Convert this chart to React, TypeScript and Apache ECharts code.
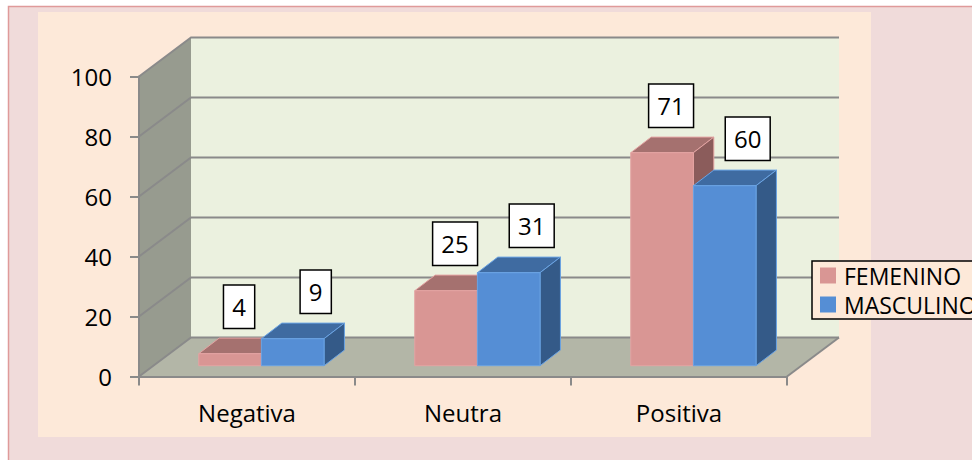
import React, { useEffect, useRef } from 'react';
import * as echarts from 'echarts';

const categories = ['Negativa', 'Neutra', 'Positiva'];
const femenino = [4, 25, 71];
const masculino = [9, 31, 60];
const seriesNames = ['FEMENINO', 'MASCULINO'];
const yTicks = [0, 20, 40, 60, 80, 100];

const FONT = '"Open Sans", sans-serif';
const WALL_DX = 52;
const WALL_DY = -39;
const BAR_FRONT_DX = 14.4;
const BAR_FRONT_DY = -10.8;
const BAR_DX = 20.4;
const BAR_DY = -15.6;
const GRID_COLOR = '#8a8a8a';

const PINK = { front: '#d99694', top: '#a5716f', side: '#8b5c5b', edge: '#e3a3a2' };
const BLUE = { front: '#558ed5', top: '#3f6ba1', side: '#345a88', edge: '#6aa3e3' };

function wallsRender(params: any, api: any) {
  const catW = api.size([1, 0])[0];
  const n = categories.length;
  const x0 = api.coord([0, 0])[0] - catW / 2;
  const x1 = api.coord([n - 1, 0])[0] + catW / 2;
  const y0 = api.coord([0, 0])[1];
  const yT = api.coord([0, yTicks[yTicks.length - 1]])[1];
  const dx = WALL_DX;
  const dy = WALL_DY;
  const children: any[] = [];
  children.push({
    type: 'polygon',
    shape: { points: [[x0, y0], [x0, yT], [x0 + dx, yT + dy], [x0 + dx, y0 + dy]] },
    style: { fill: '#979b8f' },
  });
  children.push({
    type: 'polygon',
    shape: { points: [[x0, y0], [x1, y0], [x1 + dx, y0 + dy], [x0 + dx, y0 + dy]] },
    style: { fill: '#b3b6a7' },
  });
  children.push({
    type: 'rect',
    shape: { x: x0 + dx, y: yT + dy, width: x1 - x0, height: y0 - yT },
    style: { fill: '#ebf1df' },
  });
  yTicks.forEach((v) => {
    const y = api.coord([0, v])[1];
    children.push({
      type: 'polyline',
      shape: { points: [[x0, y], [x0 + dx, y + dy], [x1 + dx, y + dy]] },
      style: { stroke: GRID_COLOR, lineWidth: 2, fill: null },
    });
  });
  children.push({
    type: 'line',
    shape: { x1: x1, y1: y0, x2: x1 + dx, y2: y0 + dy },
    style: { stroke: GRID_COLOR, lineWidth: 2 },
  });
  return { type: 'group', children };
}

function makeBarRender(side: number, colors: any, labelDx: number) {
  return (params: any, api: any) => {
    const idx = api.value(0);
    const v = api.value(1);
    const catW = api.size([1, 0])[0];
    const barW = catW * 0.29;
    const base = api.coord([idx, 0]);
    const top = api.coord([idx, v]);
    const left = base[0] + BAR_FRONT_DX - (side === 0 ? barW : 0);
    const r = left + barW;
    const by = base[1] + BAR_FRONT_DY;
    const ty = top[1] + BAR_FRONT_DY;
    return {
      type: 'group',
      children: [
        {
          type: 'polygon',
          shape: { points: [[left, ty], [r, ty], [r + BAR_DX, ty + BAR_DY], [left + BAR_DX, ty + BAR_DY]] },
          style: { fill: colors.top, stroke: colors.edge, lineWidth: 1 },
        },
        {
          type: 'polygon',
          shape: { points: [[r, ty], [r + BAR_DX, ty + BAR_DY], [r + BAR_DX, by + BAR_DY], [r, by]] },
          style: { fill: colors.side, stroke: colors.edge, lineWidth: 1 },
        },
        {
          type: 'rect',
          shape: { x: left, y: ty, width: barW, height: by - ty },
          style: { fill: colors.front, stroke: colors.edge, lineWidth: 1 },
        },
        {
          type: 'text',
          x: left + barW / 2 + labelDx,
          y: ty - 26,
          style: {
            text: String(v),
            fill: '#000',
            fontSize: 24,
            fontFamily: FONT,
            align: 'center',
            verticalAlign: 'bottom',
            backgroundColor: '#ffffff',
            borderColor: '#000000',
            borderWidth: 1.5,
            padding: [9, 8],
            lineHeight: 24,
          },
        },
      ],
    };
  };
}

export default function App() {
  const ref = useRef<HTMLDivElement>(null);
  useEffect(() => {
    if (!ref.current) return;
    const chart = echarts.init(ref.current, null, { renderer: 'svg' });
    const option: any = {
      animation: false,
      backgroundColor: '#ffffff',
      textStyle: { fontFamily: FONT },
      graphic: {
        elements: [
          {
            type: 'rect',
            z: -10,
            silent: true,
            shape: { x: 8.5, y: 6.5, width: 980, height: 470 },
            style: { fill: '#f0dbda', stroke: '#df9a9a', lineWidth: 1.5 },
          },
          {
            type: 'rect',
            z: -9,
            silent: true,
            shape: { x: 38, y: 12, width: 833, height: 425 },
            style: { fill: '#fde9d9' },
          },
        ],
      },
      grid: { left: 139, top: 76.5, width: 648, height: 300, outerBoundsMode: 'none' },
      legend: {
        data: seriesNames,
        orient: 'vertical',
        left: 812,
        top: 261,
        icon: 'rect',
        itemWidth: 16,
        itemHeight: 16,
        itemGap: 6,
        padding: [3, 8, 3, 8],
        backgroundColor: '#fde9d9',
        borderColor: '#000000',
        borderWidth: 1.5,
        selectedMode: false,
        textStyle: { fontSize: 23, color: '#000', fontFamily: FONT, lineHeight: 22, padding: [0, 0, 0, 3] },
      },
      xAxis: {
        type: 'category',
        data: categories,
        z: 5,
        axisLine: { show: true, lineStyle: { color: GRID_COLOR, width: 2 } },
        axisTick: { show: true, length: 9, alignWithLabel: false, lineStyle: { color: GRID_COLOR, width: 2 } },
        axisLabel: { fontSize: 24, color: '#000', fontFamily: FONT, margin: 24 },
        splitLine: { show: false },
      },
      yAxis: {
        type: 'value',
        min: 0,
        max: 100,
        interval: 20,
        z: 5,
        axisLine: { show: true, lineStyle: { color: GRID_COLOR, width: 2 } },
        axisTick: { show: true, length: 9, lineStyle: { color: GRID_COLOR, width: 2 } },
        axisLabel: { fontSize: 24, color: '#000', fontFamily: FONT, margin: 27 },
        splitLine: { show: false },
      },
      series: [
        {
          type: 'custom',
          name: 'walls',
          z: 1,
          clip: false,
          silent: true,
          data: [[0, 0]],
          encode: { x: 0, y: 1 },
          renderItem: wallsRender,
        },
        {
          type: 'custom',
          name: seriesNames[0],
          z: 2,
          clip: false,
          itemStyle: { color: PINK.front },
          data: femenino.map((v, i) => [i, v]),
          encode: { x: 0, y: 1 },
          renderItem: makeBarRender(0, PINK, 9),
        },
        {
          type: 'custom',
          name: seriesNames[1],
          z: 3,
          clip: false,
          itemStyle: { color: BLUE.front },
          data: masculino.map((v, i) => [i, v]),
          encode: { x: 0, y: 1 },
          renderItem: makeBarRender(1, BLUE, 23),
        },
      ],
    };
    chart.setOption(option);
    return () => chart.dispose();
  }, []);
  return <div ref={ref} style={{ position: 'absolute', left: 0, top: 0, width: 972, height: 460 }} />;
}
